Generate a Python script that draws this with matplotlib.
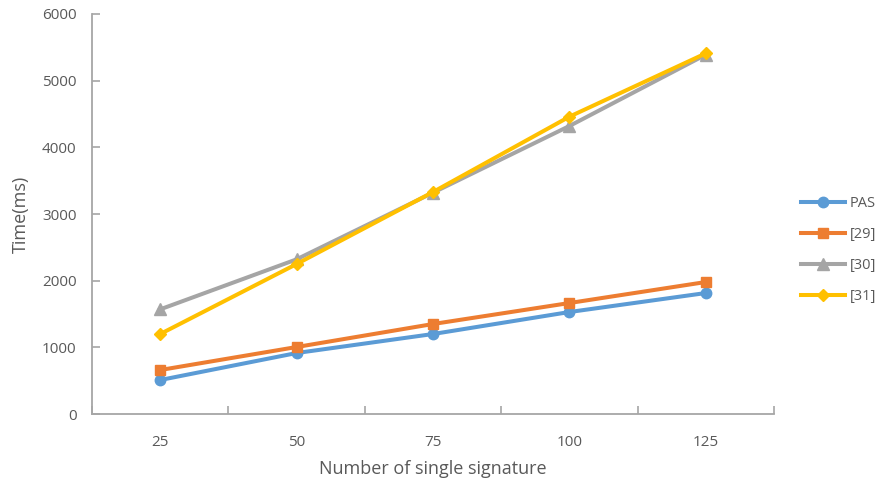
import numpy as np
import matplotlib.pyplot as plt

plt.rcParams['font.family'] = ['Open Sans', 'DejaVu Sans']

# data
signatures = ["25", "50", "75", "100", "125"]
pas = [510, 915, 1200, 1530, 1815]
ref29 = [660, 1005, 1350, 1665, 1980]
ref30 = [1570, 2320, 3320, 4320, 5390]
ref31 = [1200, 2250, 3330, 4460, 5410]

grey_txt = "#595959"
axis_col = "#a6a6a6"

fig = plt.figure(figsize=(8.82, 4.86), dpi=100)
ax = fig.add_axes([0.1043, 0.1481, 0.7733, 0.8231])

x = np.arange(len(signatures))
ax.plot(x, pas, color="#5B9BD5", lw=2.9, marker="o", ms=7.5, label="PAS")
ax.plot(x, ref29, color="#ED7D31", lw=2.9, marker="s", ms=7, label="[29]")
ax.plot(x, ref30, color="#A5A5A5", lw=2.9, marker="^", ms=8, label="[30]")
ax.plot(x, ref31, color="#FFC000", lw=2.9, marker="D", ms=6, label="[31]")

ax.set_xlim(-0.5, len(signatures) - 0.5)
ax.set_ylim(0, 6000)
ax.set_yticks(np.arange(0, 6001, 1000))
ax.set_xticks(x)
ax.set_xticklabels(signatures)
ax.set_xticks(np.arange(-0.5, len(signatures)), minor=True)
ax.tick_params(axis="x", which="major", length=0, pad=15, labelsize=11, labelcolor=grey_txt)
ax.tick_params(axis="x", which="minor", direction="in", length=6, width=1.2, color=axis_col)
ax.tick_params(axis="y", direction="in", length=6, width=1.2, color=axis_col,
               pad=11, labelsize=11, labelcolor=grey_txt)

for s in ["top", "right"]:
    ax.spines[s].set_visible(False)
for s in ["left", "bottom"]:
    ax.spines[s].set_color(axis_col)
    ax.spines[s].set_linewidth(1.3)

ax.set_xlabel("Number of single signature", fontsize=13, color=grey_txt, labelpad=7)
ax.set_ylabel("Time(ms)", fontsize=13, color=grey_txt, labelpad=9)

ax.legend(loc="center left", bbox_to_anchor=(1.025, 0.41), frameon=False,
          fontsize=10.5, labelcolor=grey_txt, handlelength=3.0, handletextpad=0.3,
          labelspacing=1.1, borderaxespad=0.3)

fig.savefig("out.png", dpi=100)
